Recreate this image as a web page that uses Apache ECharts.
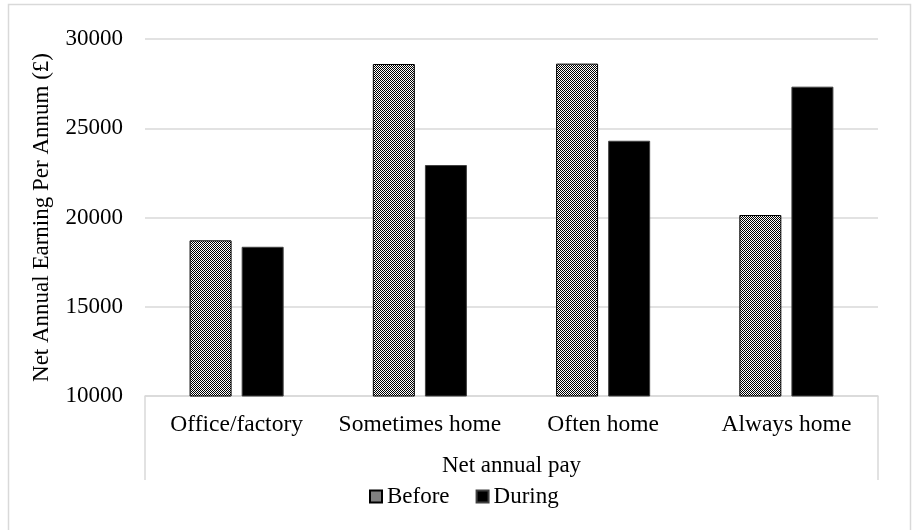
<!DOCTYPE html>
<html>
<head>
<meta charset="utf-8">
<script src="https://cdn.jsdelivr.net/npm/echarts@6/dist/echarts.min.js"></script>
<style>
    html, body { margin: 0; padding: 0; background: #fff; }
    #chart { width: 913px; height: 530px; }
</style>
</head>
<body>
<div id="chart"></div>
<script>
const categories = ['Office/factory', 'Sometimes home', 'Often home', 'Always home'];
const before = [18720, 28600, 28620, 20140];
const during = [18360, 22940, 24300, 27330];
const yTicks = [10000, 15000, 20000, 25000, 30000];

(function () {
    let chart = echarts.init(document.querySelector("#chart"));
    const font = "'Liberation Serif', 'Times New Roman', serif";
    const fs = 23;

    // checkered fill for "Before"
    let tile = document.createElement('canvas');
    tile.width = 4;
    tile.height = 4;
    let ctx = tile.getContext('2d');
    ctx.fillStyle = '#fff';
    ctx.fillRect(0, 0, 4, 4);
    ctx.fillStyle = '#000';
    for (let i = 0; i < 4; i++) {
        for (let j = 0; j < 4; j++) {
            if ((i + j) % 2 == 0) ctx.fillRect(i, j, 1, 1);
        }
    }

    const gridLeft = 145, gridRight = 878, gridTop = 39, gridBottom = 396;

    let option = {
        animation: false,
        textStyle: { fontFamily: font, color: '#000' },
        grid: { left: gridLeft, right: 913 - gridRight, top: gridTop, bottom: 530 - gridBottom },
        legend: {
            data: ['Before', 'During'],
            left: 369,
            top: 485,
            padding: 0,
            icon: 'rect',
            itemWidth: 12,
            itemHeight: 12,
            itemGap: 26,
            textStyle: { fontFamily: font, fontSize: fs, color: '#000' }
        },
        xAxis: {
            type: 'category',
            data: categories,
            name: 'Net annual pay',
            nameLocation: 'middle',
            nameGap: 58,
            nameTextStyle: { fontFamily: font, fontSize: fs, color: '#000' },
            axisLine: { lineStyle: { color: '#d9d9d9', width: 1.5 } },
            axisTick: { show: false },
            axisLabel: { interval: 0, fontFamily: font, fontSize: 23.5, color: '#000', margin: 17 }
        },
        yAxis: {
            type: 'value',
            min: yTicks[0],
            max: yTicks[yTicks.length - 1],
            interval: yTicks[1] - yTicks[0],
            name: 'Net Annual Earning Per Annum (£)',
            nameLocation: 'middle',
            nameGap: 92,
            nameTextStyle: { fontFamily: font, fontSize: fs, color: '#000' },
            axisLine: { show: false },
            axisTick: { show: false },
            axisLabel: {
                fontFamily: font, fontSize: fs, color: '#000', margin: 22,
                formatter: (v) => String(v)
            },
            splitLine: { lineStyle: { color: '#d9d9d9', width: 1.5 } }
        },
        series: [
            {
                name: 'Before',
                type: 'bar',
                data: before,
                barWidth: 42,
                barGap: '24%',
                itemStyle: {
                    color: { image: tile, repeat: 'repeat' },
                    borderColor: '#000',
                    borderWidth: 1
                }
            },
            {
                name: 'During',
                type: 'bar',
                data: during,
                barWidth: 42,
                itemStyle: {
                    color: '#000',
                    borderColor: '#404040',
                    borderWidth: 1
                }
            }
        ],
        graphic: [
            // outer chart frame
            {
                type: 'rect',
                shape: { x: 8.5, y: 4.5, width: 902, height: 540 },
                style: { fill: null, stroke: '#d9d9d9', lineWidth: 1.5 },
                silent: true
            },
            // category box sides
            {
                type: 'line',
                shape: { x1: gridLeft, y1: gridBottom, x2: gridLeft, y2: 480 },
                style: { stroke: '#d9d9d9', lineWidth: 1.5 },
                silent: true
            },
            {
                type: 'line',
                shape: { x1: gridRight, y1: gridBottom, x2: gridRight, y2: 480 },
                style: { stroke: '#d9d9d9', lineWidth: 1.5 },
                silent: true
            }
        ]
    };

    chart.setOption(option);
})();
</script>
</body>
</html>
